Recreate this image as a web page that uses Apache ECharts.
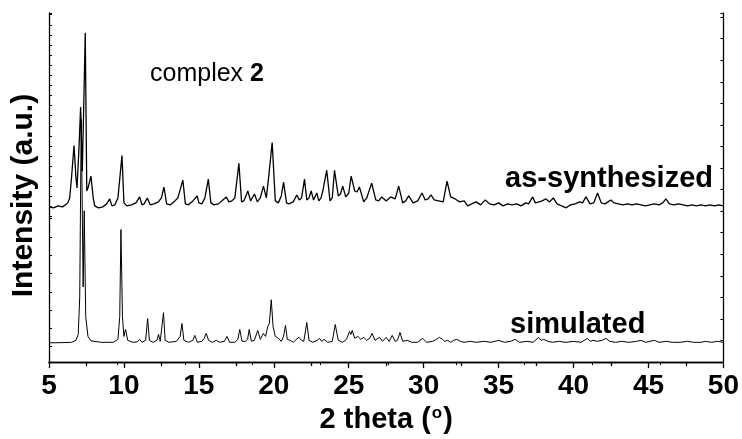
<!DOCTYPE html>
<html>
<head>
<meta charset="utf-8">
<script src="https://cdn.jsdelivr.net/npm/echarts@6/dist/echarts.min.js"></script>
<style>
  html, body { margin: 0; padding: 0; background: #fff; }
  #main { width: 742px; height: 439px; }
</style>
</head>
<body>
<div id="main"></div>
<script type="text/javascript">
// as-synthesized pattern (offset upward), 2 theta / intensity (a.u.)
var asTheta = [5.0,5.3,5.6,5.9,6.1,6.25,6.38,6.5,6.67,6.8,6.87,7.0,7.11,7.22,7.3,7.42,7.52,7.6,7.8,7.95,
  8.05,8.3,8.6,8.85,9.05,9.2,9.4,9.6,9.87,10.0,10.2,10.5,10.8,11.05,11.2,11.35,11.56,11.75,12.0,12.3,
  12.5,12.67,12.85,13.1,13.4,13.6,13.93,14.1,14.3,14.6,14.89,15.0,15.2,15.4,15.63,15.8,16.0,16.3,16.6,16.83,
  17.0,17.2,17.4,17.67,17.85,18.0,18.27,18.45,18.71,18.9,19.1,19.31,19.5,19.65,19.89,20.1,20.3,20.5,20.65,20.85,
  21.0,21.3,21.53,21.7,21.85,22.05,22.2,22.35,22.49,22.65,22.87,23.0,23.15,23.27,23.53,23.75,23.9,24.05,24.3,24.45,
  24.6,24.8,25.0,25.16,25.4,25.55,25.71,26.0,26.2,26.53,26.8,27.0,27.2,27.5,27.8,28.1,28.33,28.6,28.8,29.0,
  29.3,29.6,29.89,30.1,30.3,30.49,30.7,31.0,31.3,31.56,31.8,32.1,32.4,32.7,32.93,33.2,33.5,33.8,34.11,34.4,
  34.7,35.0,35.3,35.6,35.9,36.2,36.5,36.8,37.0,37.27,37.45,37.7,37.9,38.16,38.4,38.65,38.9,39.2,39.5,39.8,
  40.1,40.4,40.6,40.83,41.1,41.35,41.6,41.85,42.1,42.3,42.49,42.7,43.0,43.3,43.6,43.9,44.2,44.5,44.8,45.1,
  45.4,45.7,45.95,46.16,46.4,46.7,47.0,47.3,47.6,47.9,48.2,48.5,48.8,49.1,49.4,49.7,50.0];
var asInt = [157,156,158,157,159,161,166,186,219,186,176,216,258,193,246,333,173,176,188,166,
  158,156,157,160,165,158,159,166,209,161,158,159,161,167,159,160,166,159,160,162,
  166,177,160,159,163,166,184,160,159,163,168,161,160,166,185,161,159,160,164,167,
  162,163,166,201,162,163,173,163,170,162,166,178,166,186,222,163,161,168,182,161,
  160,162,169,164,166,185,164,166,173,164,171,163,166,173,194,163,166,194,168,170,
  178,167,171,188,173,172,177,162,166,181,164,163,167,163,167,165,178,161,163,168,
  161,163,171,164,165,169,164,163,162,183,167,165,162,163,158,160,162,159,164,160,
  159,161,158,160,159,160,158,161,160,167,161,162,163,165,162,166,160,158,156,159,
  160,162,161,167,160,161,171,161,160,162,164,161,160,159,160,159,160,159,158,159,
  160,159,161,165,160,159,160,159,158,159,158,159,158,159,158,159,158];

// simulated pattern
var simTheta = [5.0,6.0,6.5,6.8,6.95,7.05,7.15,7.28,7.35,7.45,7.6,7.8,8.5,9.3,9.6,9.72,9.8,9.9,10.0,10.11,
  10.25,10.6,10.9,11.05,11.2,11.45,11.58,11.7,11.95,12.2,12.31,12.42,12.55,12.64,12.75,13.0,13.5,13.75,13.87,14.0,
  14.3,14.6,14.73,14.9,15.2,15.35,15.49,15.65,15.9,16.16,16.4,16.7,16.87,17.05,17.4,17.6,17.73,17.88,18.1,18.25,
  18.36,18.5,18.7,18.8,18.93,19.1,19.2,19.3,19.45,19.6,19.7,19.83,19.95,20.1,20.3,20.5,20.65,20.78,20.9,21.1,
  21.3,21.5,21.67,21.85,22.0,22.2,22.35,22.6,22.9,23.05,23.2,23.35,23.6,23.9,24.1,24.3,24.6,24.85,25.05,25.15,
  25.23,25.4,25.6,25.8,26.0,26.2,26.4,26.56,26.75,27.05,27.25,27.5,27.7,27.9,28.1,28.25,28.42,28.6,28.9,29.2,
  29.6,29.93,30.2,30.6,30.85,31.05,31.25,31.4,31.6,31.8,32.0,32.2,32.45,32.7,33.1,33.5,34.0,34.5,35.0,35.4,
  35.8,36.1,36.4,36.9,37.3,37.67,37.85,38.0,38.3,38.6,39.0,39.5,40.0,40.5,40.93,41.1,41.3,41.6,41.9,42.16,
  42.4,42.8,43.2,43.7,44.2,44.5,44.8,45.4,45.7,46.2,46.6,47.1,47.6,48.0,48.5,48.8,49.2,49.6,50.0];
var simInt = [19.5,19.7,20,22,28,66,246,76,153,46,26,21.5,20,20,23,46,134,46,26,33,
  22,20,20.5,23,20,22,44,22,20,22,28,21,23,50,22,20,21,26,39,22,
  20,22,27,20,21,24,29,22,20,22,20,21,26,20,20,23,33,21,21,23,
  33,21,22,24,32,23,25,29,26,36,39,63,36,26,24,21,26,37,23,22,
  20,23,25,22,21,40,22,20,22,24,21,23,20,21,38,22,20,23,31,28,
  32,24,26,23,25,22,24,29,22,25,21,25,21,27,21,22,30,21,22,20,
  20,24,20,21,23,25,23,21,22,20,22,23,21,20,21,20,21,20,22,20,
  21,23,20,21,20,25,22,23,21,20,21,20,21,20,24,21,22,21,22,24,
  21,20,21,20,21,22,20,22,20,21,20,20,21,20,20,21,20,21,20];

var xTicks = [5, 50, 5];   // min, max, step of the bottom axis

var font = "'Liberation Sans', Arial, sans-serif";

function pairs(xs, ys) {
  var out = [];
  for (var i = 0; i < xs.length; i++) out.push([xs[i], ys[i]]);
  return out;
}

var chart = echarts.init(document.getElementById('main'), null, { renderer: 'canvas' });

var option = {
  animation: false,
  backgroundColor: '#fff',
  grid: [
    { left: 49, right: 18, top: 13, bottom: 73 },
    { left: 49, width: 675, top: 13, height: 203.7 },
    { left: 49, width: 675, top: 218.6, height: 128.1 }
  ],
  xAxis: [
    {
      type: 'value', gridIndex: 0, position: 'bottom',
      min: xTicks[0], max: xTicks[1], interval: xTicks[2],
      splitLine: { show: false },
      axisLine: { lineStyle: { color: '#000', width: 1.3 } },
      axisTick: { inside: false, length: 6, lineStyle: { color: '#000', width: 1.3 } },
      minorTick: { show: true, splitNumber: 2, length: 4, lineStyle: { color: '#000', width: 1.3 } },
      axisLabel: { margin: 10, color: '#000', fontSize: 28, fontWeight: 'bold', fontFamily: font },
      name: '{b|2 theta (}{s|o}{b|)}',
      nameLocation: 'middle',
      nameGap: 36,
      nameTextStyle: {
        rich: {
          b: { fontSize: 29, fontWeight: 'bold', fontFamily: font, color: '#000' },
          s: { fontSize: 17, fontWeight: 'bold', fontFamily: font, color: '#000', verticalAlign: 'top', padding: [0, 1, 0, 1] }
        }
      }
    },
    {
      type: 'value', gridIndex: 0, position: 'top',
      min: 5, max: 50, interval: 4.53,
      splitLine: { show: false },
      axisLine: { lineStyle: { color: '#000', width: 1.3 } },
      axisTick: { inside: true, length: 3, lineStyle: { color: '#000', width: 1 } },
      axisLabel: { show: false }
    },
    { type: 'value', gridIndex: 1, min: 0, max: 1, show: false },
    { type: 'value', gridIndex: 2, min: 0, max: 1, show: false }
  ],
  yAxis: [
    {
      type: 'value', gridIndex: 0, position: 'left',
      min: 0, max: 353,
      splitLine: { show: false },
      axisLine: { show: true, lineStyle: { color: '#000', width: 1.3 } },
      axisTick: { show: false },
      axisLabel: { show: false },
      name: 'Intensity (a.u.)',
      nameLocation: 'middle',
      nameRotate: 90,
      nameGap: 10,
      nameTextStyle: { fontSize: 30, fontWeight: 'bold', fontFamily: font, color: '#000', padding: [0, 16, 0, 0] }
    },
    {
      type: 'value', gridIndex: 0, position: 'right',
      min: 0, max: 353, interval: 21.8,
      splitLine: { show: false },
      axisLine: { show: true, lineStyle: { color: '#000', width: 1.3 } },
      axisTick: { inside: true, length: 3, lineStyle: { color: '#000', width: 1 } },
      axisLabel: { show: false }
    },
    {
      type: 'value', gridIndex: 1, position: 'left',
      min: 0, max: 203.7, interval: 10.1,
      splitLine: { show: false },
      axisLine: { show: false },
      axisTick: { inside: true, length: 3, lineStyle: { color: '#000', width: 1 } },
      axisLabel: { show: false }
    },
    {
      type: 'value', gridIndex: 2, position: 'left',
      min: 0, max: 128.1, interval: 18.3,
      splitLine: { show: false },
      axisLine: { show: false },
      axisTick: { inside: true, length: 3, lineStyle: { color: '#000', width: 1 } },
      axisLabel: { show: false }
    }
  ],
  series: [
    {
      name: 'simulated', type: 'line', xAxisIndex: 0, yAxisIndex: 0,
      data: pairs(simTheta, simInt),
      showSymbol: false, symbol: 'none',
      lineStyle: { color: '#000', width: 1 }
    },
    {
      name: 'as-synthesized', type: 'line', xAxisIndex: 0, yAxisIndex: 0,
      data: pairs(asTheta, asInt),
      showSymbol: false, symbol: 'none',
      lineStyle: { color: '#000', width: 1.3 }
    }
  ],
  graphic: [
    {
      type: 'text', left: 150, top: 62,
      style: {
        text: '{n|complex }{b|2}',
        rich: {
          n: { fontSize: 25, fontFamily: font, fill: '#000' },
          b: { fontSize: 25, fontWeight: 'bold', fontFamily: font, fill: '#000' }
        }
      }
    },
    {
      type: 'text', right: 29, top: 164,
      style: { text: 'as-synthesized', fontSize: 29, fontWeight: 'bold', fontFamily: font, fill: '#000' }
    },
    {
      type: 'text', left: 510, top: 310,
      style: { text: 'simulated', fontSize: 29, fontWeight: 'bold', fontFamily: font, fill: '#000' }
    }
  ]
};

chart.setOption(option);
</script>
</body>
</html>
